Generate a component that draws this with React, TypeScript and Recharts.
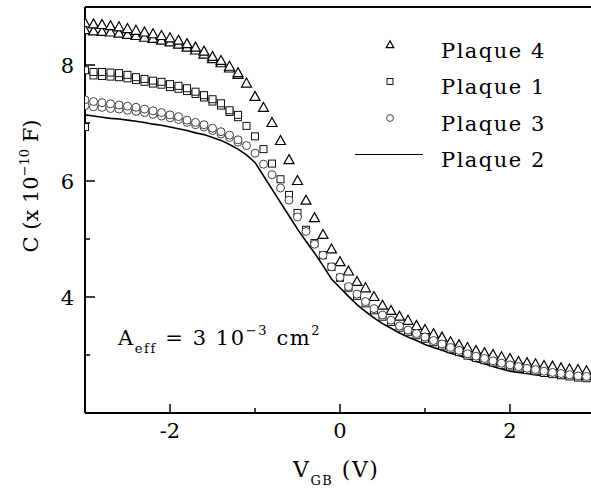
import { ComposedChart, Line, Scatter, XAxis, YAxis } from 'recharts';

// gate voltage (V)
const voltages = [
  -3.0, -2.9, -2.8, -2.7, -2.6, -2.5, -2.4, -2.3, -2.2, -2.1,
  -2.0, -1.9, -1.8, -1.7, -1.6, -1.5, -1.4, -1.3, -1.2, -1.1,
  -1.0, -0.9, -0.8, -0.7, -0.6, -0.5, -0.4, -0.3, -0.2, -0.1,
  0.0, 0.1, 0.2, 0.3, 0.4, 0.5, 0.6, 0.7, 0.8, 0.9,
  1.0, 1.1, 1.2, 1.3, 1.4, 1.5, 1.6, 1.7, 1.8, 1.9,
  2.0, 2.1, 2.2, 2.3, 2.4, 2.5, 2.6, 2.7, 2.8, 2.9, 3.0,
];

// C (x 10^-10 F)
const plaque4 = [
  8.72, 8.70, 8.69, 8.67, 8.65, 8.62, 8.59, 8.56, 8.53, 8.50,
  8.46, 8.42, 8.36, 8.30, 8.23, 8.14, 8.07, 7.97, 7.86, 7.68,
  7.45, 7.26, 7.00, 6.69, 6.36, 6.00, 5.66, 5.36, 5.07, 4.82,
  4.60, 4.44, 4.26, 4.15, 4.00, 3.85, 3.76, 3.66, 3.59, 3.50,
  3.43, 3.36, 3.30, 3.22, 3.17, 3.12, 3.07, 3.03, 3.00, 2.96,
  2.93, 2.88, 2.86, 2.84, 2.81, 2.80, 2.77, 2.75, 2.74, 2.72, 2.71,
];

const plaque1 = [
  7.91, 7.88, 7.88, 7.87, 7.86, 7.83, 7.79, 7.76, 7.73, 7.71,
  7.67, 7.64, 7.60, 7.54, 7.48, 7.41, 7.34, 7.22, 7.14, 6.95,
  6.77, 6.55, 6.30, 6.03, 5.76, 5.45, 5.16, 4.93, 4.72, 4.52,
  4.33, 4.16, 4.02, 3.89, 3.77, 3.66, 3.57, 3.47, 3.40, 3.34,
  3.28, 3.22, 3.16, 3.10, 3.05, 2.99, 2.95, 2.91, 2.87, 2.83,
  2.80, 2.77, 2.74, 2.72, 2.69, 2.67, 2.65, 2.63, 2.61, 2.60, 2.58,
];

const plaque3 = [
  7.40, 7.37, 7.35, 7.33, 7.31, 7.29, 7.27, 7.24, 7.21, 7.18,
  7.14, 7.11, 7.05, 7.01, 6.97, 6.91, 6.85, 6.79, 6.71, 6.61,
  6.48, 6.29, 6.11, 5.88, 5.67, 5.38, 5.13, 4.91, 4.72, 4.52,
  4.34, 4.18, 4.05, 3.92, 3.80, 3.69, 3.60, 3.50, 3.43, 3.37,
  3.31, 3.25, 3.19, 3.13, 3.08, 3.02, 2.98, 2.94, 2.90, 2.86,
  2.83, 2.80, 2.77, 2.75, 2.72, 2.70, 2.68, 2.66, 2.64, 2.63, 2.61,
];

const plaque2 = [
  7.14, 7.12, 7.10, 7.08, 7.07, 7.05, 7.03, 7.01, 6.98, 6.96,
  6.93, 6.90, 6.87, 6.83, 6.80, 6.75, 6.70, 6.63, 6.55, 6.45,
  6.32, 6.09, 5.86, 5.63, 5.40, 5.17, 4.96, 4.76, 4.54, 4.31,
  4.16, 4.01, 3.87, 3.75, 3.64, 3.54, 3.46, 3.38, 3.31, 3.25,
  3.18, 3.13, 3.08, 3.03, 2.99, 2.94, 2.89, 2.85, 2.80, 2.76,
  2.72, 2.70, 2.68, 2.66, 2.64, 2.63, 2.61, 2.60, 2.59, 2.58, 2.57,
];

// second sweeps, visible apart from the first only on the left (-3.0 .. -1.2 V)
const sweep2V = [
  -3.0, -2.9, -2.8, -2.7, -2.6, -2.5, -2.4, -2.3, -2.2, -2.1,
  -2.0, -1.9, -1.8, -1.7, -1.6, -1.5, -1.4, -1.3, -1.2,
];
const plaque4b = [
  8.60, 8.58, 8.57, 8.56, 8.54, 8.52, 8.50, 8.47, 8.45, 8.42,
  8.39, 8.35, 8.30, 8.25, 8.18, 8.10, 8.03, 7.94, 7.83,
];
const plaque1b = [
  6.93, 7.82, 7.81, 7.80, 7.79, 7.77, 7.74, 7.71, 7.68, 7.66,
  7.62, 7.59, 7.55, 7.50, 7.44, 7.37, 7.30, 7.19, 7.10,
];
const plaque3b = [
  7.30, 7.28, 7.27, 7.25, 7.24, 7.22, 7.20, 7.18, 7.15, 7.12,
  7.09, 7.06, 7.01, 6.97, 6.93, 6.87, 6.81, 6.75, 6.67,
];

const xTicks = [-3, -2, -1, 0, 1, 2, 3];
const xLabels = [-2, 0, 2];
const yTicks = [2, 3, 4, 5, 6, 7, 8, 9];
const yLabels = [4, 6, 8];

const legendRows = [
  { name: 'Plaque 4', kind: 'tri' },
  { name: 'Plaque 1', kind: 'sq' },
  { name: 'Plaque 3', kind: 'circ' },
  { name: 'Plaque 2', kind: 'line' },
];

const txt = { fontFamily: 'DejaVu Serif, Liberation Serif, serif', fill: '#000' };

const toPoints = (cs: number[], vs: number[] = voltages) => vs.map((v, i) => ({ v, c: cs[i] }));

const Triangle = ({ cx, cy, s = 1 }: any) => (
  <path
    d={`M${cx},${cy - 5.5 * s}L${cx + 5 * s},${cy + 3.5 * s}L${cx - 5 * s},${cy + 3.5 * s}Z`}
    fill="#fff"
    stroke="#000"
    strokeWidth={1.2}
  />
);
const Square = ({ cx, cy, s = 1 }: any) => (
  <rect x={cx - 3.5 * s} y={cy - 3.5 * s} width={7 * s} height={7 * s} fill="#fff" stroke="#111" strokeWidth={1} />
);
const Circle = ({ cx, cy, s = 1 }: any) => (
  <circle cx={cx} cy={cy} r={4 * s} fill="#fff" stroke="#444" strokeWidth={1} />
);

const BottomTick = ({ x, y, payload }: any) => {
  const v = payload.value;
  const major = v % 2 === 0;
  return (
    <g>
      <line x1={x} x2={x} y1={y} y2={y - (major ? 9 : 5)} stroke="#000" strokeWidth={1.5} />
      {xLabels.includes(v) && (
        <text x={x} y={y + 25} textAnchor="middle" fontSize={21} style={txt}>
          {v}
        </text>
      )}
    </g>
  );
};

const TopTick = ({ x, y, payload }: any) => {
  const major = payload.value % 2 === 0;
  return <line x1={x} x2={x} y1={y} y2={y + (major ? 9 : 5)} stroke="#000" strokeWidth={1.5} />;
};

const LeftTick = ({ x, y, payload }: any) => {
  const v = payload.value;
  const major = v % 2 === 0;
  return (
    <g>
      <line x1={x} x2={x + (major ? 10 : 5)} y1={y} y2={y} stroke="#000" strokeWidth={1.5} />
      {yLabels.includes(v) && (
        <text x={x - 11} y={y + 8} textAnchor="end" fontSize={21} style={txt}>
          {v}
        </text>
      )}
    </g>
  );
};

const RightTick = ({ x, y, payload }: any) => {
  const major = payload.value % 2 === 0;
  return <line x1={x} x2={x - (major ? 10 : 5)} y1={y} y2={y} stroke="#000" strokeWidth={1.5} />;
};

const axisLine = { stroke: '#000', strokeWidth: 2 };

const App = () => {
  return (
    <div style={{ position: 'absolute', left: 0, top: 0, width: 591, height: 490, overflow: 'hidden', background: '#fff' }}>
      <div style={{ position: 'relative', width: 600, height: 490 }}>
        <ComposedChart width={600} height={490} margin={{ top: 0, right: 0, bottom: 47, left: 25 }}>
          <XAxis
            xAxisId={0}
            dataKey="v"
            type="number"
            domain={[-3, 3]}
            ticks={xTicks}
            allowDataOverflow
            height={30}
            axisLine={axisLine}
            tickLine={false}
            tickSize={0}
            tickMargin={0}
            tick={<BottomTick />}
            interval={0}
          />
          <XAxis
            xAxisId="top"
            orientation="top"
            dataKey="v"
            type="number"
            domain={[-3, 3]}
            ticks={xTicks}
            height={7}
            axisLine={axisLine}
            tickLine={false}
            tickSize={0}
            tickMargin={0}
            tick={<TopTick />}
            interval={0}
          />
          <YAxis
            yAxisId={0}
            dataKey="c"
            type="number"
            domain={[2, 9]}
            ticks={yTicks}
            allowDataOverflow
            width={60}
            axisLine={axisLine}
            tickLine={false}
            tickSize={0}
            tickMargin={0}
            tick={<LeftTick />}
            interval={0}
          />
          <YAxis
            yAxisId="right"
            orientation="right"
            dataKey="c"
            type="number"
            domain={[2, 9]}
            ticks={yTicks}
            width={5}
            axisLine={axisLine}
            tickLine={false}
            tickSize={0}
            tickMargin={0}
            tick={<RightTick />}
            interval={0}
          />
          <Scatter name="Plaque 4 (2)" data={toPoints(plaque4b, sweep2V)} dataKey="c" shape={<Triangle />} isAnimationActive={false} />
          <Scatter name="Plaque 4" data={toPoints(plaque4)} dataKey="c" shape={<Triangle />} isAnimationActive={false} />
          <Scatter name="Plaque 1 (2)" data={toPoints(plaque1b, sweep2V)} dataKey="c" shape={<Square />} isAnimationActive={false} />
          <Scatter name="Plaque 1" data={toPoints(plaque1)} dataKey="c" shape={<Square />} isAnimationActive={false} />
          <Scatter name="Plaque 3 (2)" data={toPoints(plaque3b, sweep2V)} dataKey="c" shape={<Circle />} isAnimationActive={false} />
          <Scatter name="Plaque 3" data={toPoints(plaque3)} dataKey="c" shape={<Circle />} isAnimationActive={false} />
          <Line
            name="Plaque 2"
            data={toPoints(plaque2)}
            dataKey="c"
            type="linear"
            stroke="#000"
            strokeWidth={1.6}
            dot={false}
            activeDot={false}
            isAnimationActive={false}
          />
        </ComposedChart>
        <svg width={600} height={490} style={{ position: 'absolute', left: 0, top: 0, pointerEvents: 'none' }}>
          {legendRows.map((r, i) => {
            const cy = 45 + i * 36.5;
            return (
              <g key={r.name}>
                {r.kind === 'tri' && <Triangle cx={390} cy={cy} s={0.75} />}
                {r.kind === 'sq' && <Square cx={390} cy={cy} s={0.85} />}
                {r.kind === 'circ' && <Circle cx={390} cy={cy} s={0.85} />}
                {r.kind === 'line' && <line x1={355} x2={423} y1={cy} y2={cy} stroke="#000" strokeWidth={1.2} />}
                <text x={441} y={cy + 12.5} fontSize={21} letterSpacing={1.5} style={txt}>
                  {r.name}
                </text>
              </g>
            );
          })}
          <text transform="translate(38,186) rotate(-90)" textAnchor="middle" fontSize={21} style={txt}>
            C (x 10
            <tspan dy={-9} fontSize={13}>−10</tspan>
            <tspan dy={9}> F)</tspan>
          </text>
          <text x={293} y={477} fontSize={22} letterSpacing={1.5} style={txt}>
            V<tspan dy={8} fontSize={13}>GB</tspan>
            <tspan dy={-8}> (V)</tspan>
          </text>
          <text x={118} y={345} fontSize={21} letterSpacing={1.6} style={txt}>
            A<tspan dy={8} fontSize={13}>eff</tspan>
            <tspan dy={-8}> = 3 10</tspan>
            <tspan dy={-10} fontSize={13}>−3</tspan>
            <tspan dy={10}> cm</tspan>
            <tspan dy={-10} fontSize={13}>2</tspan>
          </text>
        </svg>
      </div>
    </div>
  );
};

export default App;
